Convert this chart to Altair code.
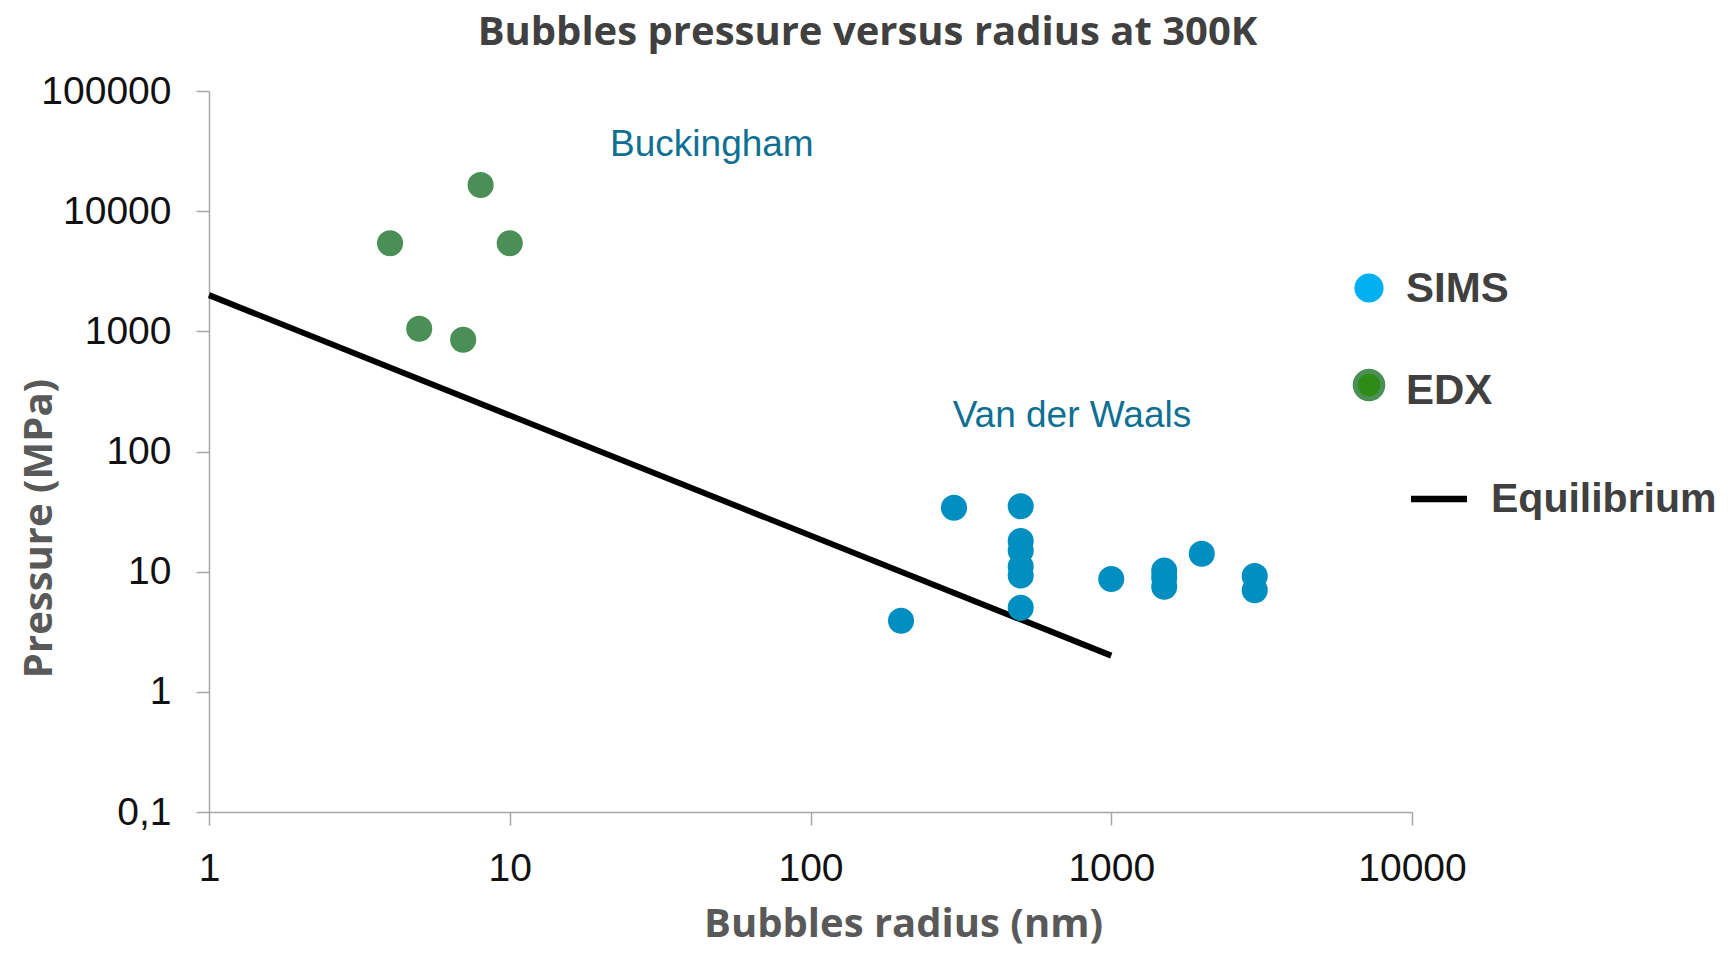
import altair as alt
import pandas as pd

# ---------------- data ----------------
title_text = "Bubbles pressure versus radius at 300K"
x_title = "Bubbles radius (nm)"
y_title = "Pressure (MPa)"

x_ticks = [1, 10, 100, 1000, 10000]
y_ticks = [0.1, 1, 10, 100, 1000, 10000, 100000]

edx_radius = [4, 5, 7, 8, 10]
edx_pressure = [5400, 1050, 850, 16500, 5400]

sims_radius = [200, 300, 500, 500, 500, 500, 500, 500, 1000, 1500, 1500, 1500, 2000, 3000, 3000]
sims_pressure = [3.9, 34, 35, 18, 15, 11, 9.3, 5.0, 8.7, 10.2, 8.9, 7.5, 14.1, 9.2, 7.0]

eq_radius = [1, 1000]
eq_pressure = [2000, 2]

note_labels = ["Buckingham", "Van der Waals"]
note_radius = [47, 740]
note_pressure = [35500, 196]

legend_labels = ["SIMS", "EDX", "Equilibrium"]

# ---------------- tables ----------------
edx_df = pd.DataFrame({"radius": edx_radius, "pressure": edx_pressure})
sims_df = pd.DataFrame({"radius": sims_radius, "pressure": sims_pressure})
eq_df = pd.DataFrame({"radius": eq_radius, "pressure": eq_pressure})
note_df = pd.DataFrame({"radius": note_radius, "pressure": note_pressure, "label": note_labels})

W, H = 1203, 721
AXIS_GREY = "#a6a6a6"

x_enc = alt.X(
    "radius:Q",
    scale=alt.Scale(type="log", domain=[1, 10000], nice=False),
    axis=alt.Axis(
        values=x_ticks,
        title=x_title,
        labelExpr="format(datum.value, 'd')",
        labelFont="Liberation Sans",
        labelFontSize=39,
        labelColor="#111111",
        labelPadding=24,
        tickSize=13,
        tickColor=AXIS_GREY,
        tickWidth=1.5,
        domainColor=AXIS_GREY,
        domainWidth=1.5,
        grid=False,
        titleFont="Open Sans",
        titleFontSize=40,
        titleFontWeight="bold",
        titleColor="#595959",
        titleX=694,
        titleY=112,
        titleBaseline="middle",
        titleAlign="center",
        labelFlush=False,
    ),
)
y_enc = alt.Y(
    "pressure:Q",
    scale=alt.Scale(type="log", domain=[0.1, 100000], nice=False),
    axis=alt.Axis(
        values=y_ticks,
        title=y_title,
        labelExpr="replace(format(datum.value, '~g'), '.', ',')",
        labelFont="Liberation Sans",
        labelFontSize=39,
        labelColor="#111111",
        labelPadding=25,
        tickSize=13,
        tickColor=AXIS_GREY,
        tickWidth=1.5,
        domainColor=AXIS_GREY,
        domainWidth=1.5,
        grid=False,
        titleFont="Open Sans",
        titleFontSize=40,
        titleFontWeight="bold",
        titleColor="#595959",
        titleX=-170,
        titleY=437,
        titleAngle=270,
        titleBaseline="middle",
        titleAlign="center",
        labelFlush=False,
    ),
)

eq_line = alt.Chart(eq_df).mark_line(color="black", strokeWidth=6).encode(x=x_enc, y=y_enc)

sims_pts = alt.Chart(sims_df).mark_circle(size=680, color="#008fc0", opacity=1).encode(
    x="radius:Q", y="pressure:Q"
)
edx_pts = alt.Chart(edx_df).mark_circle(size=680, color="#4a8f55", opacity=1).encode(
    x="radius:Q", y="pressure:Q"
)

notes = alt.Chart(note_df).mark_text(
    font="Liberation Sans", fontSize=37, color="#0f7093", align="center", baseline="middle"
).encode(x="radius:Q", y="pressure:Q", text="label:N")

# ---------------- manual legend ----------------
leg_df = pd.DataFrame({"label": legend_labels})

leg_sims = alt.Chart(leg_df).transform_filter(alt.datum.label == "SIMS").mark_point(
    shape="circle", filled=True, size=850, color="#00b0f0", opacity=1
).encode(x=alt.value(1160), y=alt.value(197))
leg_edx = alt.Chart(leg_df).transform_filter(alt.datum.label == "EDX").mark_point(
    shape="circle", filled=True, size=760, fill="#2e8b15", stroke="#4a8f55", strokeWidth=5, opacity=1
).encode(x=alt.value(1160), y=alt.value(294))
leg_eq = alt.Chart(leg_df).transform_filter(alt.datum.label == "Equilibrium").mark_rule(
    color="black", strokeWidth=6.5
).encode(x=alt.value(1202), x2=alt.value(1258), y=alt.value(408))

leg_text_style = dict(font="Liberation Sans", fontSize=42, fontWeight="bold", color="#404040",
                      align="left", baseline="middle")
leg_t1 = alt.Chart(leg_df).transform_filter(alt.datum.label == "SIMS").mark_text(**leg_text_style).encode(
    x=alt.value(1197), y=alt.value(198), text="label:N")
leg_t2 = alt.Chart(leg_df).transform_filter(alt.datum.label == "EDX").mark_text(**leg_text_style).encode(
    x=alt.value(1197), y=alt.value(300), text="label:N")
leg_t3 = alt.Chart(leg_df).transform_filter(alt.datum.label == "Equilibrium").mark_text(
    **{**leg_text_style, "fontSize": 41}).encode(
    x=alt.value(1282), y=alt.value(409), text="label:N")

chart = alt.layer(
    eq_line, sims_pts, edx_pts, notes, leg_sims, leg_edx, leg_eq, leg_t1, leg_t2, leg_t3
).properties(
    width=W,
    height=H,
    title=alt.TitleParams(
        title_text,
        font="Open Sans",
        fontSize=40,
        fontWeight="bold",
        color="#404040",
        anchor="middle",
        dx=57,
        offset=19,
    ),
    padding={"left": 201, "top": 83, "right": 308, "bottom": 136},
    autosize=alt.AutoSizeParams(type="none"),
).configure_view(stroke=None)

chart.save("out.html", embed_options={"renderer": "svg", "actions": False})
